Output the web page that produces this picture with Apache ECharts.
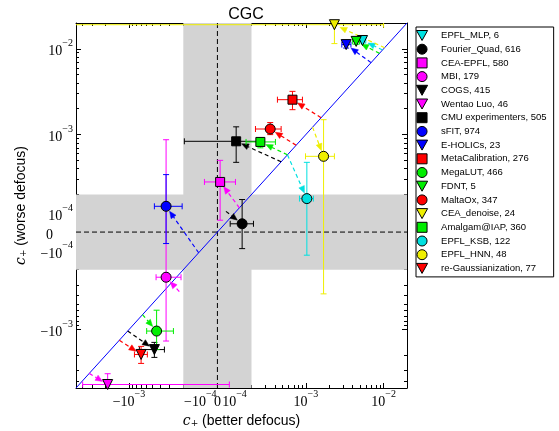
<!DOCTYPE html>
<html><head><meta charset="utf-8">
<script src="https://cdn.jsdelivr.net/npm/echarts@6/dist/echarts.min.js"></script>
<style>html,body{margin:0;padding:0;background:#fff}#c{width:559px;height:431px}</style>
</head><body><div id="c"></div>
<script>
// ---------------- data (c+ values) ----------------
const methods = ['EPFL_MLP, 6','Fourier_Quad, 616','CEA-EPFL, 580','MBI, 179','COGS, 415','Wentao Luo, 46',
  'CMU experimenters, 505','sFIT, 974','E-HOLICs, 23','MetaCalibration, 276','MegaLUT, 466','FDNT, 5',
  'MaltaOx, 347','CEA_denoise, 24','Amalgam@IAP, 360','EPFL_KSB, 122','EPFL_HNN, 48','re-Gaussianization, 77'];
const shapes = ['tri','circle','rect','circle','tri','tri','rect','circle','tri','rect','circle','tri',
  'circle','tri','rect','circle','circle','tri'];
const colors = ['#00e0e0','#000000','#ff00ff','#ff00ff','#000000','#ff00ff','#000000','#0000ff','#0000ff',
  '#ff0000','#00ee00','#00ee00','#ff0000','#eeee00','#00ee00','#00e0e0','#eeee00','#ff0000'];
// better defocus (x)
const cBetter   = [5.36e-3, 1.45e-4, 1.6e-5, -3.33e-4, -4.71e-4, -1.88e-3, 1.10e-4, -3.33e-4, 3.3e-3, 6.73e-4, -4.41e-4, 4.44e-3, 3.48e-4, 2.33e-3, 2.6e-4, 1.03e-3, 1.69e-3, -6.98e-4];
const cBetterLo = [4.9e-3, 7.5e-5, -7.6e-5, -4.48e-4, -7.35e-4, -3.94e-3, -1.94e-4, -4.71e-4, 2.9e-3, 4.31e-4, -5.92e-4, 4.0e-3, 2.25e-4, -6e-3, 1.68e-4, 8.28e-4, 9.9e-4, -8.5e-4];
const cBetterHi = [5.9e-3, 2.12e-4, 1.06e-4, -2.14e-4, -3.5e-4, 7.0e-5, 2.4e-4, -2.07e-4, 3.8e-3, 9.04e-4, -2.68e-4, 4.9e-3, 4.81e-4, 1.0e-2, 4.06e-4, 1.25e-3, 2.33e-3, -5.8e-4];
// worse defocus (y)
const cWorse    = [0.0125, 4.4e-5, 2.8e-4, -2.45e-4, -1.71e-3, -4.37e-3, 8.34e-4, 1.37e-4, 0.0112, 2.55e-3, -1.04e-3, 0.0122, 1.16e-3, 0.0191, 8.2e-4, 1.78e-4, 5.57e-4, -1.95e-3];
const cWorseLo  = [0.0117, -8.8e-5, 6.3e-5, -1.36e-3, -2.11e-3, -6e-3, 4.74e-4, -6.1e-5, 0.0102, 1.95e-3, -1.71e-3, 0.0113, 9.98e-4, 0.0115, 7.0e-4, -1.23e-4, -3.83e-4, -2.48e-3];
const cWorseHi  = [0.0133, 1.73e-4, 5.0e-4, 8.7e-4, -1.41e-3, -3.27e-3, 1.23e-3, 3.41e-4, 0.0122, 3.19e-3, -5.94e-4, 0.0131, 1.38e-3, 0.03, 9.2e-4, 4.74e-4, 1.49e-3, -1.57e-3];
// arrow origins
const arrowFromX = [9.7e-3, 5e-5, 1.29e-4, -2.25e-4, -1.04e-3, -3.24e-3, 4.81e-4, -1.1e-4, 6.9e-3, 1.57e-3, -6.7e-4, 8.85e-3, 7.5e-4, 0.0103, 5.8e-4, 5.8e-4, 1.22e-3, -1.33e-3];
const arrowFromY = [9.7e-3, 1.1e-4, 1.29e-4, -3.6e-4, -1.04e-3, -3.24e-3, 4.81e-4, -1.1e-4, 6.9e-3, 1.57e-3, -6.7e-4, 8.85e-3, 7.5e-4, 0.0103, 5.8e-4, 5.8e-4, 1.22e-3, -1.33e-3];
// axes
const axisRange = [-0.0048, 0.02];
const bandLimits = [-2e-4, 2e-4];
const majorTicks = [-1e-3, -1e-4, 0, 1e-4, 1e-3, 1e-2];
const tickMantissa = ['−10', '−10', '0', '10', '10', '10'];
const tickExponent = ['−3', '−4', '', '−4', '−3', '−2'];

// ---------------- symlog scale (linthresh 2e-4) ----------------
const LINTHRESH = 2e-4, LINSCALE = 0.4386;
function sl(v){ const a = Math.abs(v); return a <= LINTHRESH ? v / LINTHRESH * LINSCALE : Math.sign(v) * (LINSCALE + Math.log10(a / LINTHRESH)); }
const AMIN = sl(axisRange[0]), AMAX = sl(axisRange[1]);
const majorT = majorTicks.map(sl);
const minorT = [];
[-4, -3, -2].forEach(n => { for (let k = 2; k <= 9; k++) { const v = k * Math.pow(10, n); if (v >= LINTHRESH) { minorT.push(sl(v)); minorT.push(sl(-v)); } } });
const minorIn = minorT.filter(t => t > AMIN && t < AMAX);

function fmt(isY){
  return function(val){
    let i = majorT.findIndex(t => Math.abs(t - val) < 1e-6);
    if (i < 0) return '';
    if (tickExponent[i] === '') return isY ? '{z|' + tickMantissa[i] + '}' : '{b|' + tickMantissa[i] + '}';
    return '{b|' + tickMantissa[i] + '}{s|' + tickExponent[i] + '}';
  };
}
const labelRich = {
  b: {fontFamily: 'Liberation Serif', fontSize: 14, color: '#000', verticalAlign: 'bottom', lineHeight: 20},
  s: {fontFamily: 'Liberation Serif', fontSize: 10, color: '#000', verticalAlign: 'top', lineHeight: 20},
  z: {fontFamily: 'Liberation Serif', fontSize: 14, color: '#000', verticalAlign: 'bottom', lineHeight: 20, padding: [0, 20, 0, 0]}
};
const nameRich = {
  i: {fontFamily: 'DejaVu Serif', fontStyle: 'italic', fontSize: 14, color: '#000', verticalAlign: 'bottom', lineHeight: 20},
  u: {fontFamily: 'DejaVu Serif', fontSize: 9, color: '#000', verticalAlign: 'bottom', lineHeight: 16},
  t: {fontFamily: 'Liberation Sans', fontSize: 14, color: '#000', verticalAlign: 'bottom', lineHeight: 20}
};

function mkAxis(dim, pos, major, withLabel, withLine, extra){
  const ax = {
    type: 'value', min: AMIN, max: AMAX, position: pos, gridIndex: 0,
    axisLine: {show: withLine, onZero: false, lineStyle: {color: '#000', width: 1}},
    axisTick: {show: true, inside: true, length: major ? 5 : 3, lineStyle: {color: '#000', width: 1},
      customValues: major ? majorT : minorIn},
    axisLabel: withLabel ? {show: true, customValues: majorT, formatter: fmt(dim === 'y'), rich: labelRich, margin: dim === 'y' ? 3 : 1} : {show: false},
    splitLine: {show: false}, minorTick: {show: false}, silent: true
  };
  return Object.assign(ax, extra || {});
}
const xAxes = [
  mkAxis('x', 'bottom', true, true, true, {name: '{i|c}{u|+}{t| (better defocus)}', nameLocation: 'middle', nameGap: 14, nameTextStyle: {rich: nameRich}}),
  mkAxis('x', 'bottom', false, false, false),
  mkAxis('x', 'top', true, false, true),
  mkAxis('x', 'top', false, false, false)
];
const yAxes = [
  mkAxis('y', 'left', true, true, true, {name: '{i|c}{u|+}{t| (worse defocus)}', nameLocation: 'middle', nameGap: 48, nameRotate: 90, nameTextStyle: {rich: nameRich}}),
  mkAxis('y', 'left', false, false, false),
  mkAxis('y', 'right', true, false, true),
  mkAxis('y', 'right', false, false, false)
];

const series = [];
// gray bands
series.push({type: 'custom', silent: true, z: 1, clip: true, data: [[sl(bandLimits[0]), sl(bandLimits[1])]],
  renderItem: function(p, api){
    const cs = p.coordSys;
    const a = api.coord([api.value(0), api.value(0)]), b = api.coord([api.value(1), api.value(1)]);
    return {type: 'group', children: [
      {type: 'rect', shape: {x: a[0], y: cs.y, width: b[0] - a[0], height: cs.height}, style: {fill: '#d3d3d3'}},
      {type: 'rect', shape: {x: cs.x, y: b[1], width: cs.width, height: a[1] - b[1]}, style: {fill: '#d3d3d3'}}
    ]};
  }});
// zero lines
series.push({type: 'custom', silent: true, z: 2, data: [[0, 0]],
  renderItem: function(p, api){
    const cs = p.coordSys; const o = api.coord([api.value(0), api.value(1)]);
    const st = {stroke: '#000', lineWidth: 1, lineDash: [5, 3]};
    return {type: 'group', children: [
      {type: 'line', shape: {x1: o[0], y1: cs.y, x2: o[0], y2: cs.y + cs.height}, style: st},
      {type: 'line', shape: {x1: cs.x, y1: o[1], x2: cs.x + cs.width, y2: o[1]}, style: st}
    ]};
  }});
// diagonal
series.push({type: 'line', silent: true, z: 3, symbol: 'none', data: [[AMIN, AMIN], [AMAX, AMAX]],
  lineStyle: {color: '#0000ff', width: 1}});

const SHRINK = 6, HEAD_L = 7, HEAD_W = 3;
methods.forEach((m, i) => {
  const col = colors[i];
  series.push({type: 'custom', name: m, z: 4, clip: true, silent: true,
    data: [[sl(cBetter[i]), sl(cWorse[i]), sl(cBetterLo[i]), sl(cBetterHi[i]), sl(cWorseLo[i]), sl(cWorseHi[i]), sl(arrowFromX[i]), sl(arrowFromY[i])]],
    renderItem: function(p, api){
      const v = k => api.value(k);
      const P = api.coord([v(0), v(1)]);
      const xl = api.coord([v(2), v(1)]), xh = api.coord([v(3), v(1)]);
      const yl = api.coord([v(0), v(4)]), yh = api.coord([v(0), v(5)]);
      const A = api.coord([v(6), v(7)]);
      const st = {stroke: col, lineWidth: 1};
      const C = 3;
      const ch = [
        {type: 'line', shape: {x1: xl[0], y1: P[1], x2: xh[0], y2: P[1]}, style: st},
        {type: 'line', shape: {x1: xl[0], y1: P[1] - C, x2: xl[0], y2: P[1] + C}, style: st},
        {type: 'line', shape: {x1: xh[0], y1: P[1] - C, x2: xh[0], y2: P[1] + C}, style: st},
        {type: 'line', shape: {x1: P[0], y1: yl[1], x2: P[0], y2: yh[1]}, style: st},
        {type: 'line', shape: {x1: P[0] - C, y1: yl[1], x2: P[0] + C, y2: yl[1]}, style: st},
        {type: 'line', shape: {x1: P[0] - C, y1: yh[1], x2: P[0] + C, y2: yh[1]}, style: st}
      ];
      const dx = P[0] - A[0], dy = P[1] - A[1], len = Math.hypot(dx, dy);
      if (len > SHRINK + 2) {
        const ux = dx / len, uy = dy / len;
        const tip = [P[0] - ux * SHRINK, P[1] - uy * SHRINK];
        const base = [tip[0] - ux * HEAD_L, tip[1] - uy * HEAD_L];
        if (len > SHRINK + HEAD_L) ch.push({type: 'line', shape: {x1: A[0], y1: A[1], x2: base[0], y2: base[1]}, style: {stroke: col, lineWidth: 1.2, lineDash: [4, 3]}});
        ch.push({type: 'polygon', shape: {points: [tip, [base[0] - uy * HEAD_W, base[1] + ux * HEAD_W], [base[0] + uy * HEAD_W, base[1] - ux * HEAD_W]]}, style: {fill: col, stroke: col, lineWidth: 0.5}});
      }
      return {type: 'group', children: ch};
    }});
});
methods.forEach((m, i) => {
  const sh = shapes[i];
  series.push({type: 'scatter', name: m, z: 5, silent: true,
    symbol: sh === 'tri' ? 'triangle' : sh, symbolRotate: sh === 'tri' ? 180 : 0,
    symbolSize: sh === 'rect' ? 9 : 10,
    itemStyle: {color: colors[i], borderColor: '#000', borderWidth: 1, opacity: 1},
    data: [[sl(cBetter[i]), sl(cWorse[i])]]});
});

const iconPath = {tri: 'path://M0,0L10,0L5,9Z', rect: 'path://M0,0L10,0L10,10L0,10Z', circle: 'circle'};
const legendData = methods.map((m, i) => ({
  name: m,
  icon: iconPath[shapes[i]],
  itemStyle: {color: colors[i], borderColor: '#000', borderWidth: 1}
}));

const chart = echarts.init(document.getElementById('c'), null, {renderer: 'canvas'});
chart.setOption({
  animation: false,
  backgroundColor: '#fff',
  title: {text: 'CGC', left: 241, textAlign: 'center', top: 2, textStyle: {fontFamily: 'Liberation Sans', fontSize: 16, fontWeight: 'normal', color: '#000'}},
  grid: {left: 76, top: 23, width: 331, height: 365, containLabel: false, outerBoundsMode: 'none'},
  xAxis: xAxes, yAxis: yAxes,
  legend: {orient: 'vertical', left: 416, top: 27, data: legendData, itemWidth: 28, itemHeight: 10, itemGap: 2.7,
    padding: [3, 7, 3, 0], borderColor: '#000', borderWidth: 1, backgroundColor: '#fff', selectedMode: false,
    textStyle: {fontFamily: 'Liberation Sans', fontSize: 9.5, color: '#000', lineHeight: 10}},
  series: series
});
</script></body></html>
